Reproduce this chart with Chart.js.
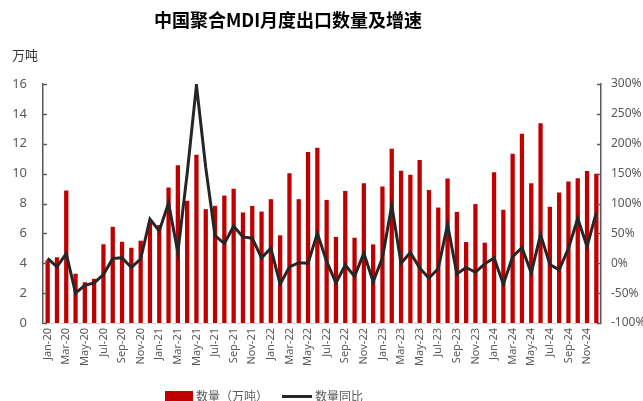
<!DOCTYPE html>
<html>
<head>
<meta charset="utf-8">
<script src="https://cdn.jsdelivr.net/npm/chart.js@4"></script>
<style>
  body { margin: 0; background: #fff; }
  #wrap { position: relative; width: 643px; height: 401px; overflow: hidden; font-family: "Noto Sans CJK SC", "Noto Sans", sans-serif; }
  #grafico { position: absolute; left: 0; top: 0; }
  .titulo { position: absolute; left: 0; width: 576px; top: 6px; text-align: center; font-size: 18px; font-weight: bold; color: #000; }
  .unidade { position: absolute; left: 12px; top: 45px; font-size: 13px; color: #333; }
  .legenda { position: absolute; left: 165px; top: 389px; font-size: 12px; color: #595959; display: flex; align-items: center; white-space: nowrap; line-height: 14px; }
  .legenda .caixa { display: inline-block; width: 28px; height: 10px; background: #C00000; margin-right: 3px; }
  .legenda .linha { display: inline-block; width: 30px; height: 3px; background: #262626; margin: 0 3px 0 14px; }
</style>
</head>
<body>
<div id="wrap">
  <canvas id="grafico" width="643" height="401"></canvas>
  <div class="titulo">中国聚合MDI月度出口数量及增速</div>
  <div class="unidade">万吨</div>
  <div class="legenda"><span class="caixa"></span>数量（万吨）<span class="linha"></span>数量同比</div>
</div>
<script>
// meses e anos dos rótulos do eixo x
const meses = ['Jan', 'Feb', 'Mar', 'Apr', 'May', 'Jun', 'Jul', 'Aug', 'Sep', 'Oct', 'Nov', 'Dec'];
const anos = ['20', '21', '22', '23', '24'];

// exportação mensal (万吨)
const quantidade = [
  4.2, 4.4, 8.87, 3.3, 2.73, 2.96, 5.27, 6.44, 5.44, 5.04, 5.51, 6.7,
  6.56, 9.07, 10.56, 8.18, 11.27, 7.62, 7.84, 8.53, 8.98, 7.4, 7.84, 7.46,
  8.29, 5.87, 10.02, 8.29, 11.44, 11.73, 8.24, 5.76, 8.84, 5.71, 9.36, 5.26,
  9.13, 11.67, 10.2, 9.93, 10.91, 8.91, 7.73, 9.67, 7.44, 5.42, 7.96, 5.38,
  10.09, 7.58, 11.33, 12.67, 9.36, 13.38, 7.78, 8.73, 9.47, 9.69, 10.18, 10.0
];

// variação anual (%)
const variacao = [
  8, -6, 16, -50, -37, -33, -19, 8, 9, -7, 7, 74,
  54, 101, 18, 150, 298, 160, 46, 33, 62, 44, 42, 9,
  25, -35, -6, 1, 0, 50, 3, -33, -3, -22, 17, -31,
  9, 97, 0, 18, -8, -25, -9, 65, -18, -7, -15, -1,
  9, -35, 11, 26, -16, 48, -2, -11, 25, 75, 28, 85
];

const rotulos = [];
anos.forEach(a => meses.forEach(m => rotulos.push(m + '-' + a)));

// marcas de escala para dentro da área do gráfico
const marcasInternas = {
  id: 'marcasInternas',
  afterDraw(chart) {
    const c = chart.ctx;
    const area = chart.chartArea;
    c.save();
    c.strokeStyle = '#595959';
    c.lineWidth = 1.5;
    ['y', 'y1'].forEach(id => {
      const s = chart.scales[id];
      s.ticks.forEach((t, i) => {
        const py = Math.round(s.getPixelForTick(i)) + 0.5;
        c.beginPath();
        if (id === 'y') { c.moveTo(area.left, py); c.lineTo(area.left + 4, py); }
        else { c.moveTo(area.right, py); c.lineTo(area.right - 4, py); }
        c.stroke();
      });
    });
    c.restore();
  }
};

const fonteTicks = { family: '"Noto Sans", "Noto Sans CJK SC", sans-serif' };

new Chart(document.getElementById('grafico'), {
  data: {
    labels: rotulos,
    datasets: [
      {
        type: 'line',
        label: '数量同比',
        data: variacao,
        yAxisID: 'y1',
        borderColor: '#262626',
        borderWidth: 3,
        pointRadius: 0,
        tension: 0,
        order: 0
      },
      {
        type: 'bar',
        label: '数量（万吨）',
        data: quantidade,
        yAxisID: 'y',
        backgroundColor: '#C00000',
        categoryPercentage: 1,
        barPercentage: 0.46,
        order: 1
      }
    ]
  },
  plugins: [marcasInternas],
  options: {
    responsive: false,
    animation: false,
    layout: { padding: { left: 0, right: 0, top: 84, bottom: 0 } },
    plugins: {
      legend: { display: false },
      tooltip: { enabled: false }
    },
    scales: {
      x: {
        offset: true,
        grid: { display: false, drawTicks: false },
        border: { color: '#d9d9d9', width: 1 },
        ticks: {
          autoSkip: false,
          maxRotation: 90,
          minRotation: 90,
          padding: 5,
          color: '#595959',
          font: { ...fonteTicks, size: 11 },
          callback: (v, i) => (i % 2 === 0 ? rotulos[i] : '')
        },
        afterFit: s => { s.height = 78; }
      },
      y: {
        position: 'left',
        min: 0,
        max: 16,
        grid: { display: false, drawTicks: false },
        border: { color: '#595959', width: 1.5 },
        ticks: { stepSize: 2, padding: 16, color: '#595959', font: { ...fonteTicks, size: 13 } },
        afterFit: s => { s.width = 43; }
      },
      y1: {
        position: 'right',
        min: -100,
        max: 300,
        grid: { display: false, drawTicks: false },
        border: { color: '#595959', width: 1.5 },
        ticks: {
          stepSize: 50,
          padding: 10,
          color: '#595959',
          font: { ...fonteTicks, size: 12 },
          callback: v => v + '%'
        },
        afterFit: s => { s.width = 42; }
      }
    }
  }
});
</script>
</body>
</html>
